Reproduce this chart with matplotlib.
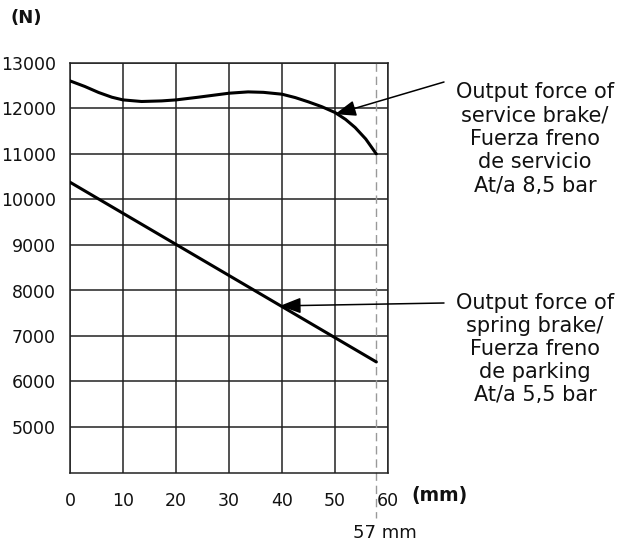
import matplotlib
matplotlib.use("Agg")
import matplotlib.pyplot as plt

# ---- data ----
service_x = [0, 2.8, 5.4, 7.9, 10, 13.5, 17.3, 20, 24.2, 30, 33.6, 36.5, 40, 42.5, 45, 47.5, 50, 52, 53.8, 55.8, 57.8]
service_y = [12607, 12484, 12352, 12248, 12189, 12154, 12167, 12189, 12248, 12336, 12365, 12355, 12314, 12240, 12145, 12040, 11912, 11760, 11582, 11330, 11000]
spring_x = [0, 57.8]
spring_y = [10380, 6430]
stroke_x = 57.8
x_ticks = [0, 10, 20, 30, 40, 50, 60]
y_ticks = [5000, 6000, 7000, 8000, 9000, 10000, 11000, 12000, 13000]
service_label = ["Output force of", "service brake/", "Fuerza freno", "de servicio", "At/a 8,5 bar"]
spring_label = ["Output force of", "spring brake/", "Fuerza freno", "de parking", "At/a 5,5 bar"]

W, H = 632, 544
plt.rcParams['font.family'] = ['DejaVu Sans']
fig = plt.figure(figsize=(W / 100, H / 100), dpi=100)
ax = fig.add_axes([70 / W, (H - 472.5) / H, 318 / W, 409.5 / H])
ax.set_xlim(0, 60)
ax.set_ylim(4000, 13000)
ax.set_xticks(x_ticks)
ax.set_yticks(y_ticks)
ax.set_xticklabels([str(v) for v in x_ticks])
ax.set_yticklabels([str(v) for v in y_ticks])
ax.tick_params(length=0, labelsize=12.5, colors='#111111')
ax.tick_params(axis='x', pad=14)
ax.tick_params(axis='y', pad=10)
ax.grid(True, color='#222222', lw=1.1)
for s in ax.spines.values():
    s.set_color('#222222')
    s.set_linewidth(1.1)

ax.plot(service_x, service_y, color='black', lw=2.2, solid_capstyle='round', zorder=3)
ax.plot(spring_x, spring_y, color='black', lw=2.2, solid_capstyle='round', zorder=3)

# dashed stroke line extending below axes
ax.plot([stroke_x, stroke_x], [13000, 3000], color='#999999', lw=1, ls=(0, (6, 3.5)),
        clip_on=False, zorder=2)

def px(x, y):
    return (x / W, 1 - y / H)

fig.text(*px(385, 533), "57 mm", ha='center', va='center', fontsize=13, color='#111111')
fig.text(*px(11, 18), "(N)", ha='left', va='center', fontsize=13, fontweight='bold', color='#111111')
fig.text(*px(411, 496), "(mm)", ha='left', va='center', fontsize=13.5, fontweight='bold', color='#111111')

# annotations
arrow = dict(arrowstyle='-|>,head_length=0.8,head_width=0.3', color='black', lw=1.1,
             shrinkA=0, shrinkB=0, mutation_scale=16)
ax.annotate("", xy=(50, 11875), xytext=(444 / W, 1 - 82 / H), textcoords='figure fraction',
            arrowprops=arrow, annotation_clip=False)
ax.annotate("", xy=(39.6, 7662), xytext=(444 / W, 1 - 303 / H), textcoords='figure fraction',
            arrowprops=arrow, annotation_clip=False)

for i, line in enumerate(service_label):
    fig.text(*px(535, 92 + 23.5 * i), line, ha='center', va='center', fontsize=15, color='#111111')
for i, line in enumerate(spring_label):
    fig.text(*px(535, 303 + 23 * i), line, ha='center', va='center', fontsize=15, color='#111111')

fig.savefig("out.png", dpi=100)
